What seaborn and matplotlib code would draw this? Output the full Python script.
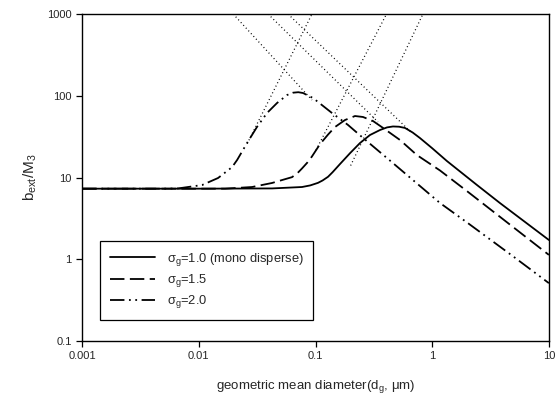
import numpy as np
import pandas as pd
import matplotlib
matplotlib.use("Agg")
import matplotlib.pyplot as plt
import seaborn as sns

# 곡선 값
d_mono = [0.001, 0.01, 0.0424, 0.0766, 0.09, 0.105, 0.115, 0.128, 0.14, 0.162, 0.198, 0.2405,
          0.293, 0.357, 0.41, 0.461, 0.52, 0.584, 0.68, 0.785, 1.0, 1.337, 2.42, 3.80, 10.0]
b_mono = [7.3, 7.3, 7.35, 7.65, 8.0, 8.6, 9.2, 10.2, 11.6, 14.6, 19.9, 26.4,
          33.1, 38.1, 41.0, 42.1, 41.8, 40.4, 35.5, 30.4, 22.8, 15.9, 8.09, 4.88, 1.72]

d_15 = [0.001, 0.01, 0.0168, 0.0286, 0.0424, 0.0629, 0.07, 0.0766, 0.085, 0.093, 0.1093,
        0.128, 0.147, 0.179, 0.218, 0.255, 0.311, 0.379, 0.529, 0.74, 1.165, 2.0, 5.0, 10.0]
b_15 = [7.3, 7.3, 7.3, 7.65, 8.57, 10.1, 11.3, 12.9, 15.2, 18.0, 25.6,
        33.5, 41.5, 50.5, 56.5, 55.0, 49.1, 40.4, 28.8, 18.8, 12.2, 6.76, 2.44, 1.13]

d_20 = [0.001, 0.005, 0.00664, 0.01067, 0.01462, 0.01928, 0.0213, 0.0259, 0.0315, 0.0384,
        0.0468, 0.057, 0.0642, 0.0712, 0.0782, 0.0952, 0.1384, 0.19, 0.25, 0.461, 0.684,
        1.165, 2.0, 5.0, 10.0]
b_20 = [7.3, 7.3, 7.35, 8.09, 9.86, 13.4, 16.4, 26.4, 41.5, 61.5,
        81.5, 102.0, 109.0, 110.5, 108.0, 93.8, 61.5, 43.9, 31.3, 15.0, 9.3,
        4.88, 2.8, 1.07, 0.51]

# 점선 (점근선) 양 끝점
asym_d = {
    "A": [0.0197, 0.0933], "B": [0.0392, 0.343], "C": [0.0581, 0.671],
    "D": [0.026, 0.0933], "E": [0.101, 0.406], "F": [0.2, 0.833],
}
asym_b = {
    "A": [1000, 88.7], "B": [1000, 47.8], "C": [1000, 35.0],
    "D": [26.0, 1000], "E": [21.7, 1000], "F": [14.0, 1000],
}

labels = ["σ$_g$=1.0 (mono disperse)", "σ$_g$=1.5", "σ$_g$=2.0"]
xticks = [0.001, 0.01, 0.1, 1, 10]
xticklabels = ["0.001", "0.01", "0.1", "1", "10"]
yticks = [0.1, 1, 10, 100, 1000]
yticklabels = ["0.1", "1", "10", "100", "1000"]

sns.set_style("ticks")
plt.rcParams['font.family'] = ['Liberation Sans', 'DejaVu Sans']
plt.rcParams['mathtext.fontset'] = 'custom'
plt.rcParams['mathtext.rm'] = 'Liberation Sans'
plt.rcParams['mathtext.it'] = 'Liberation Sans'

fig, ax = plt.subplots(figsize=(5.55, 4), dpi=100)
fig.subplots_adjust(left=0.148, right=0.989, top=0.965, bottom=0.1475)

for k in asym_d:
    sns.lineplot(x=asym_d[k], y=asym_b[k], ax=ax, color="black", lw=0.9,
                 linestyle=(0, (0.8, 2.2)), estimator=None, legend=False)

df1 = pd.DataFrame({"d": d_mono, "b": b_mono})
df2 = pd.DataFrame({"d": d_15, "b": b_15})
df3 = pd.DataFrame({"d": d_20, "b": b_20})

sns.lineplot(data=df1, x="d", y="b", ax=ax, color="black", lw=1.3,
             estimator=None, label=labels[0])
sns.lineplot(data=df2, x="d", y="b", ax=ax, color="black", lw=1.3,
             linestyle=(0, (8, 3)), estimator=None, label=labels[1])
sns.lineplot(data=df3, x="d", y="b", ax=ax, color="black", lw=1.3,
             linestyle=(0, (8, 2.5, 1, 2.5, 1, 2.5)), estimator=None, label=labels[2])

ax.set_xscale("log")
ax.set_yscale("log")
ax.set_xlim(0.001, 10)
ax.set_ylim(0.1, 1000)
ax.set_xticks(xticks)
ax.set_xticklabels(xticklabels)
ax.set_yticks(yticks)
ax.set_yticklabels(yticklabels)
ax.minorticks_off()
ax.tick_params(axis="both", labelsize=8, length=4, width=0.9, color="black", direction="out")

for s in ax.spines.values():
    s.set_visible(True)
    s.set_color("black")
    s.set_linewidth(1.0)

ax.set_xlabel("geometric mean diameter(d$_g$, μm)", fontsize=9.5, labelpad=12)
ax.set_ylabel("b$_{\\mathrm{ext}}$/M$_3$", fontsize=11, labelpad=6)

leg = ax.legend(loc="lower left", bbox_to_anchor=(0.039, 0.064), fontsize=9.3,
                handlelength=3.5, handletextpad=0.9, labelspacing=0.32,
                borderpad=0.75, borderaxespad=0.0, frameon=True, fancybox=False,
                framealpha=1)
leg.get_frame().set_edgecolor("black")
leg.get_frame().set_linewidth(0.9)

plt.savefig("out.png", dpi=100)
